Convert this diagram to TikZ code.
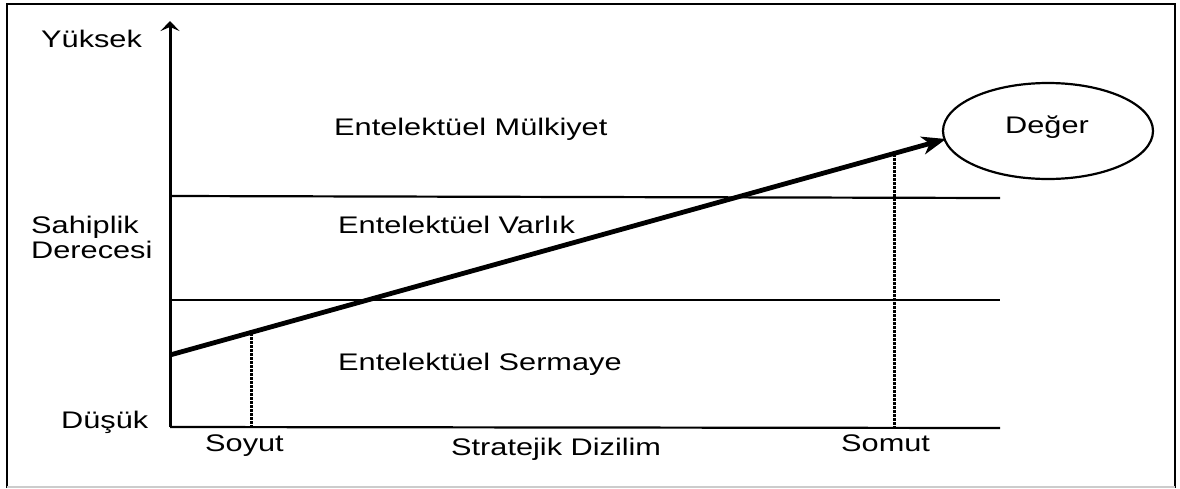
\documentclass[tikz,border=0pt]{standalone}
\usepackage{fontspec}
\setmainfont{Liberation Sans}[FakeStretch=1.28]
\usetikzlibrary{arrows.meta,shapes.geometric}
\begin{document}
\begin{tikzpicture}[x=1pt,y=-1pt,
  lbl/.style={font=\fontsize{24}{28}\selectfont, inner sep=0pt, anchor=base west},
  band/.style={line width=2.2pt},
  guide/.style={dash pattern=on 2.5pt off 1.5pt, line width=3pt},
  axisline/.style={line width=3pt}]
\useasboundingbox (0,0) rectangle (1180,488);
% frame
\draw[line width=2.8pt] (7,488) -- (7,4) -- (1175,4) -- (1175,488);
\draw[gray!40, line width=1.2pt] (7,487) -- (1175,487);
% axes and band lines
\coordinate (o) at (170,427);
\coordinate (ytop) at (170,21);
\coordinate (xend) at (1000,428);
\coordinate (b1l) at (170,196);
\coordinate (b1r) at (1000,198);
\coordinate (b2l) at (170,300);
\coordinate (b2r) at (1000,300);
\draw[band] (o) -- (xend);
\draw[band] (b1l) -- (b1r);
\draw[band] (b2l) -- (b2r);
\draw[axisline, -{Stealth[length=10pt,width=19pt,inset=4pt]}] (o) -- (ytop);
% value ellipse
\node[draw, line width=2.2pt, ellipse, minimum width=210pt, minimum height=96pt, inner sep=0pt] (deger) at (1048,131) {};
\node[lbl, anchor=center] (degert) at (1047,127) {Değer};
% main arrow
\coordinate (start) at (170,355);
\coordinate (tip) at (946,139);
\draw[line width=4.8pt, -{Stealth[length=24pt,width=18pt,inset=7pt]}] (start) -- (tip);
% dotted guides
\coordinate (d1t) at (251,333);
\coordinate (d1b) at (251,427);
\coordinate (d2t) at (894,154);
\coordinate (d2b) at (894,427);
\draw[guide] (d1t) -- (d1b);
\draw[guide] (d2t) -- (d2b);
% labels
\node[lbl] (yuksek) at (41,47) {Yüksek};
\node[lbl] (sahip) at (31,233) {Sahiplik};
\node[lbl] (derece) at (31,258) {Derecesi};
\node[lbl] (dusuk) at (61,428) {Düşük};
\node[lbl] (soyut) at (205,451) {Soyut};
\node[lbl] (strat) at (451,455) {Stratejik Dizilim};
\node[lbl] (somut) at (841,451) {Somut};
\node[lbl] (mulk) at (334,135) {Entelektüel Mülkiyet};
\node[lbl] (varlik) at (338,233) {Entelektüel Varlık};
\node[lbl] (serm) at (338,370) {Entelektüel Sermaye};
\end{tikzpicture}
\end{document}
